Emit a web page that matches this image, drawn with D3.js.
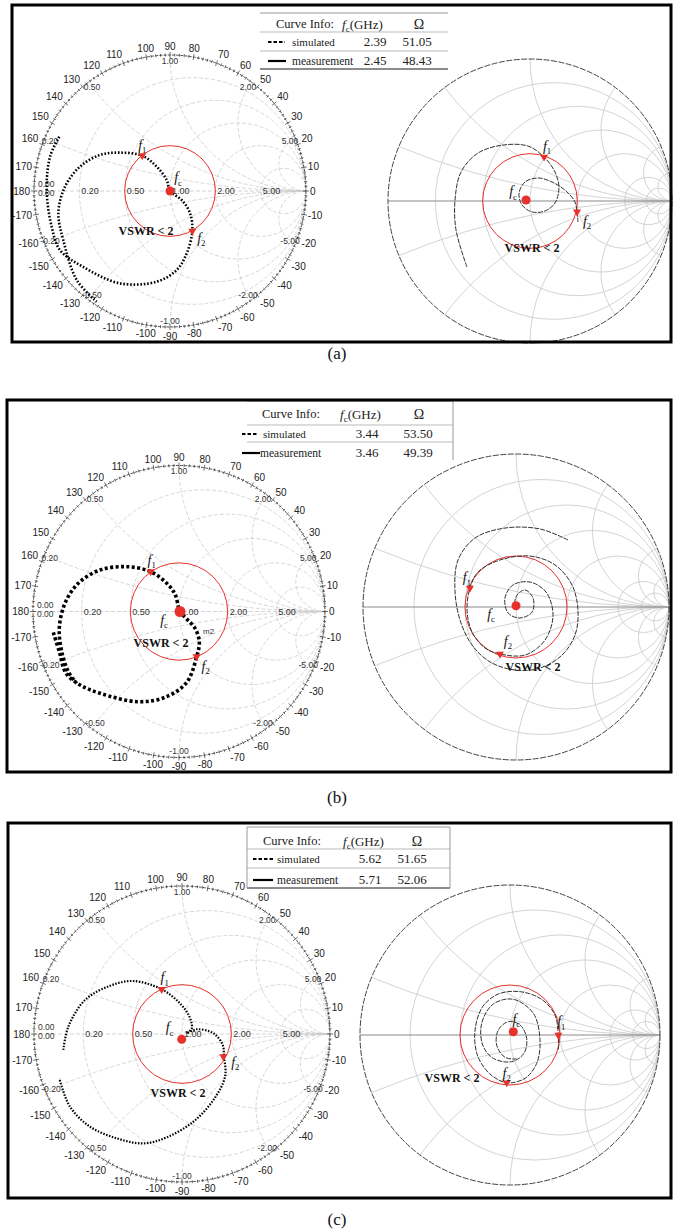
<!DOCTYPE html>
<html>
<head>
<meta charset="utf-8">
<script src="https://cdn.jsdelivr.net/npm/d3@7"></script>
<style>
  body { margin: 0; background: #fff; }
  svg { display: block; }
</style>
</head>
<body>
<svg id="fig" width="673" height="1232"></svg>
<script>
// ---- data (reflection coefficient, [Re, Im]) ----
const captions = ['(a)', '(b)', '(c)'];
const fcSim = ['2.39', '3.44', '5.62'];
const ohmSim = ['51.05', '53.50', '51.65'];
const fcMeas = ['2.45', '3.46', '5.71'];
const ohmMeas = ['48.43', '49.39', '52.06'];

const rGridLeft = [0.2, 0.5, 1, 2, 5];
const xGridLeft = [0.2, 0.5, 1, 2, 5];
const rGridRight = [0.2, 0.5, 1, 2, 5, 10];
const xGridRight = [0.2, 0.5, 1, 2, 5, 10];
const rLabels = ['0.20', '0.50', '1.00', '2.00', '5.00'];
const xLabels = ['0.20', '0.50', '1.00', '2.00', '5.00'];
const angleLabels = [-170, -160, -150, -140, -130, -120, -110, -100, -90, -80, -70, -60, -50, -40, -30, -20, -10,
  0, 10, 20, 30, 40, 50, 60, 70, 80, 90, 100, 110, 120, 130, 140, 150, 160, 170, 180];

const simA = [[-0.814,0.399],[-0.882,0.252],[-0.907,0.007],[-0.870,-0.263],[-0.809,-0.434],[-0.640,-0.557],
  [-0.368,-0.679],[-0.098,-0.667],[0.049,-0.581],[0.123,-0.458],[0.164,-0.294],[0.147,-0.162],[0.086,-0.066],
  [0,0],[-0.024,0.081],[-0.098,0.179],[-0.204,0.260],[-0.368,0.282],[-0.515,0.265],[-0.662,0.179],
  [-0.772,0.032],[-0.821,-0.162],[-0.785,-0.360],[-0.686,-0.654],[-0.539,-0.814]];
const simB = [[-0.861,-0.143],[-0.820,-0.275],[-0.774,-0.423],[-0.678,-0.503],[-0.541,-0.560],[-0.279,-0.618],
  [-0.084,-0.583],[0.053,-0.485],[0.121,-0.309],[0.139,-0.207],[0.110,-0.115],[0.053,-0.051],[0.007,0],
  [-0.027,0.118],[-0.084,0.193],[-0.194,0.273],[-0.358,0.307],[-0.541,0.284],[-0.690,0.193],[-0.781,0.056],
  [-0.820,-0.115],[-0.803,-0.275],[-0.758,-0.412],[-0.701,-0.492]];
const simC = [[-0.802,-0.108],[-0.768,0.049],[-0.655,0.230],[-0.486,0.326],[-0.329,0.358],[-0.137,0.302],
  [-0.014,0.207],[0.050,0.117],[0.066,0.038],[0.032,0.005],[0.099,0.032],[0.212,0.005],[0.275,-0.074],
  [0.284,-0.153],[0.291,-0.288],[0.212,-0.446],[0.077,-0.592],[-0.103,-0.698],[-0.261,-0.739],[-0.441,-0.705],
  [-0.622,-0.626],[-0.757,-0.491],[-0.829,-0.300]];

const measA = [[-0.444,-0.465],[-0.521,-0.204],[-0.528,0.007],[-0.486,0.204],[-0.366,0.338],[-0.190,0.394],
  [-0.014,0.387],[0.099,0.310],[0.176,0.204],[0.204,0.092],[0.176,-0.014],[0.106,-0.070],[0.014,-0.077],
  [-0.056,-0.028],[-0.077,0.056],[-0.035,0.134],[0.056,0.162],[0.155,0.134],[0.254,0.070],[0.317,-0.007],
  [0.331,-0.077],[0.338,-0.148]];
const measB = [[0.340,0.438],[0.157,0.510],[-0.072,0.516],[-0.268,0.451],[-0.379,0.307],[-0.399,0.111],
  [-0.366,-0.085],[-0.288,-0.248],[-0.170,-0.359],[-0.007,-0.412],[0.157,-0.399],[0.301,-0.314],[0.386,-0.183],
  [0.405,-0.020],[0.366,0.144],[0.255,0.275],[0.092,0.333],[-0.105,0.307],[-0.248,0.229],[-0.301,0.124],
  [-0.320,-0.020],[-0.288,-0.163],[-0.203,-0.268],[-0.105,-0.307],[0.059,-0.314],[0.190,-0.216],[0.242,-0.052],
  [0.196,0.098],[0.092,0.163],[-0.020,0.144],[-0.072,0.059],[-0.052,-0.039],[0.026,-0.072],[0.105,-0.033],
  [0.111,0.059],[0.059,0.111],[0.007,0.078],[-0.013,0.013]];
const measC = [[0.322,-0.096],[0.322,0],[0.300,0.133],[0.211,0.238],[0.067,0.289],[-0.078,0.273],[-0.182,0.189],
  [-0.233,0.033],[-0.218,-0.133],[-0.138,-0.256],[-0.022,-0.318],[0.100,-0.289],[0.178,-0.189],[0.200,-0.033],
  [0.156,0.144],[0.022,0.238],[-0.111,0.207],[-0.189,0.078],[-0.182,-0.067],[-0.111,-0.156],[0.011,-0.178],
  [0.093,-0.122],[0.111,-0.022],[0.067,0.067],[-0.011,0.089],[-0.078,0.033],[-0.089,-0.067],[-0.033,-0.149],
  [0.044,-0.160]];

// f1, f2, fc marker positions
const markSimA = [[-0.204,0.260],[0.164,-0.294],[0,0]];
const markSimB = [[-0.194,0.273],[0.121,-0.309],[0.007,0]];
const markSimC = [[-0.137,0.302],[0.279,-0.153],[-0.002,-0.036]];
const markMeasA = [[0.099,0.310],[0.331,-0.077],[-0.028,0.007]];
const markMeasB = [[-0.301,0.124],[-0.105,-0.307],[0,0.008]];
const markMeasC = [[0.322,0],[-0.022,-0.318],[0.022,0.022]];

// ---- layout ----
const serif = '"Liberation Serif", "Times New Roman", serif';
const sans = '"Liberation Sans", Arial, sans-serif';
const red = '#e8312a';

const layout = [
  { box: [12, 5, 671, 342], cap: 359,
    left: { cx: 170, cy: 191, R: 136, sim: simA, marks: markSimA, w: 2.6, dash: '1.6,1.8',
            lab: [[0,-10],[9,8],[8,-13]], vswr: [146, 235] },
    right: { cx: 530, cy: 201, R: 142, meas: measA, marks: markMeasA,
            lab: [[3,-10],[10,10],[-13,-8]], vswr: [532, 252] },
    leg: { x0: 260, x1: 448, top: 13, hl: [32, 51], bottom: 69, rows: [24, 42, 61],
           info: 276, fc: 342, fcVal: 375, om: 419, omVal: 417, samp: [268, 285], msamp: [268, 286],
           lbl: 292, mlbl: 292, vl: [] } },
  { box: [7, 400, 671, 772], cap: 803,
    left: { cx: 179, cy: 611.5, R: 146, sim: simB, marks: markSimB, w: 3.6, dash: '3,2.4',
            lab: [[1,-11],[9,10],[-16,9]], vswr: [161, 647], m2: [203, 634] },
    right: { cx: 516, cy: 607, R: 153, meas: measB, marks: markMeasB,
            lab: [[-3,-10],[8,-12],[-25,9]], vswr: [533, 671] },
    leg: { x0: 247, x1: 453, top: 401, hl: [425, 442], bottom: null, rows: [414, 434, 453],
           info: 262, fc: 340, fcVal: 367, om: 419, omVal: 418, samp: [242, 258], msamp: [242, 260],
           lbl: 263, mlbl: 260, vl: [[453, 400, 460]] } },
  { box: [8, 823, 671, 1198], cap: 1225,
    left: { cx: 182, cy: 1034, R: 148, sim: simC, marks: markSimC, w: 2.2, dash: '1.5,1.5',
            lab: [[3,-11],[12,6],[-12,-11]], vswr: [178, 1097] },
    right: { cx: 510, cy: 1035, R: 150, meas: measC, marks: markMeasC,
            lab: [[3,-13],[0,-9],[3,-12]], vswr: [452, 1082] },
    leg: { x0: 247, x1: 450, top: 827, hl: [849, 868], bottom: 888, rows: [841, 859, 880],
           info: 263, fc: 343, fcVal: 370, om: 417, omVal: 412, samp: [253, 273], msamp: [253, 273],
           lbl: 277, mlbl: 277, vl: [[247, 827, 888], [450, 827, 888]] } }
];

const svg = d3.select('#fig');

function fLabel(g, x, y, sub, size) {
  const t = g.append('text').attr('x', x).attr('y', y).attr('font-family', serif)
    .attr('font-size', size).attr('fill', '#111').attr('text-anchor', 'middle');
  t.append('tspan').attr('font-style', 'italic').text('f');
  t.append('tspan').attr('font-size', size * 0.62).attr('dy', size * 0.25).text(sub);
}

function smith(g, c, kind, id) {
  const xs = d3.scaleLinear().domain([-1, 1]).range([c.cx - c.R, c.cx + c.R]);
  const ys = d3.scaleLinear().domain([-1, 1]).range([c.cy + c.R, c.cy - c.R]);
  const isL = kind === 'left';
  g.append('clipPath').attr('id', id).append('circle')
    .attr('cx', c.cx).attr('cy', c.cy).attr('r', c.R);

  const grid = g.append('g').attr('clip-path', `url(#${id})`).attr('fill', 'none')
    .attr('stroke', isL ? '#cdcdcd' : '#c8c8c8').attr('stroke-width', 0.8)
    .attr('stroke-dasharray', isL ? '4,2' : null);
  const rs = isL ? rGridLeft : rGridRight;
  const xl = (isL ? xGridLeft : xGridRight).flatMap(v => [v, -v]);
  grid.append('g').selectAll('circle').data(rs).join('circle')
    .attr('cx', r => xs(r / (1 + r))).attr('cy', ys(0)).attr('r', r => c.R / (1 + r));
  grid.append('g').selectAll('circle').data(xl).join('circle')
    .attr('cx', xs(1)).attr('cy', x => ys(1 / x)).attr('r', x => c.R / Math.abs(x));
  g.append('line').attr('x1', xs(-1)).attr('x2', xs(1)).attr('y1', ys(0)).attr('y2', ys(0))
    .attr('stroke', isL ? '#c8c8c8' : '#8a8a8a').attr('stroke-width', isL ? 0.8 : 1)
    .attr('stroke-dasharray', isL ? '4,2' : null);

  if (isL) {
    // outer angle ring
    g.append('circle').attr('cx', c.cx).attr('cy', c.cy).attr('r', c.R)
      .attr('fill', 'none').attr('stroke', '#222').attr('stroke-width', 0.8).attr('stroke-dasharray', '3,1.2');
    const ticks = d3.range(-180, 180, 2);
    g.append('g').selectAll('line').data(ticks).join('line')
      .each(function (a) {
        const th = a * Math.PI / 180, r0 = a % 10 === 0 ? c.R - 3 : c.R - 1.5, r1 = a % 10 === 0 ? c.R + 3 : c.R + 1.5;
        d3.select(this)
          .attr('x1', c.cx + r0 * Math.cos(th)).attr('y1', c.cy - r0 * Math.sin(th))
          .attr('x2', c.cx + r1 * Math.cos(th)).attr('y2', c.cy - r1 * Math.sin(th));
      })
      .attr('stroke', '#333').attr('stroke-width', 0.7);
    g.append('g').selectAll('text').data(angleLabels).join('text')
      .each(function (a) {
        const th = a * Math.PI / 180, co = Math.cos(th), si = Math.sin(th);
        const rr = c.R + 4;
        d3.select(this)
          .attr('x', c.cx + rr * co).attr('y', c.cy - rr * si)
          .attr('text-anchor', co > 0.3 ? 'start' : co < -0.3 ? 'end' : 'middle')
          .attr('dy', si > 0.3 ? '-0.1em' : si < -0.3 ? '0.85em' : '0.35em');
      })
      .attr('font-family', sans).attr('font-size', 10).attr('fill', '#222').text(a => a);
    // resistance labels on the real axis
    g.append('g').selectAll('text').data(rGridLeft).join('text')
      .attr('x', r => xs((r - 1) / (r + 1)) + 2).attr('y', ys(0)).attr('dy', '0.35em')
      .attr('font-family', sans).attr('font-size', 9).attr('fill', '#333')
      .text((r, i) => rLabels[i]);
    // reactance labels at the rim
    const xlab = xGridLeft.flatMap((v, i) => [[v, xLabels[i]], [-v, '-' + xLabels[i]]]);
    g.append('g').selectAll('text').data(xlab).join('text')
      .each(function (d) {
        const th = Math.PI - 2 * Math.atan(d[0]), rr = c.R - 6;
        d3.select(this).attr('x', c.cx + rr * Math.cos(th)).attr('y', c.cy - rr * Math.sin(th));
      })
      .attr('dy', '0.35em').attr('text-anchor', 'middle')
      .attr('font-family', sans).attr('font-size', 8.5).attr('fill', '#333').text(d => d[1]);
    g.append('text').attr('x', xs(-1) + 4).attr('y', ys(0) - 4).attr('font-family', sans)
      .attr('font-size', 8.5).attr('fill', '#333').text('0.00');
    g.append('text').attr('x', xs(-1) + 4).attr('y', ys(0) + 5).attr('font-family', sans)
      .attr('font-size', 8.5).attr('fill', '#333').text('0.00');
  } else {
    g.append('circle').attr('cx', c.cx).attr('cy', c.cy).attr('r', c.R)
      .attr('fill', 'none').attr('stroke', '#444').attr('stroke-width', 1).attr('stroke-dasharray', '6,1.5');
  }

  // VSWR = 2 circle
  g.append('circle').attr('cx', c.cx).attr('cy', c.cy).attr('r', c.R / 3)
    .attr('fill', 'none').attr('stroke', red).attr('stroke-width', 1);

  const line = d3.line().x(d => xs(d[0])).y(d => ys(d[1])).curve(d3.curveCatmullRom.alpha(0.5));
  if (isL) {
    g.append('path').attr('d', line(c.sim)).attr('fill', 'none').attr('stroke', '#000')
      .attr('stroke-width', c.w).attr('stroke-dasharray', c.dash);
  } else {
    g.append('path').attr('d', line(c.meas)).attr('fill', 'none').attr('stroke', '#333')
      .attr('stroke-width', 1).attr('stroke-dasharray', '5,1.2');
  }

  // markers
  const tri = d3.symbol(d3.symbolTriangle, 28);
  c.marks.slice(0, 2).forEach(m => {
    g.append('path').attr('d', tri()).attr('fill', red)
      .attr('transform', `translate(${xs(m[0])},${ys(m[1])}) rotate(180)`);
  });
  const fc = c.marks[2];
  g.append('circle').attr('cx', xs(fc[0])).attr('cy', ys(fc[1])).attr('r', isL && c.w > 3 ? 5.5 : 4.5).attr('fill', red);
  ['1', '2', 'c'].forEach((s, i) => {
    const m = c.marks[i];
    fLabel(g, xs(m[0]) + c.lab[i][0], ys(m[1]) + c.lab[i][1] + 4, s, 14);
  });
  g.append('text').attr('x', c.vswr[0]).attr('y', c.vswr[1]).attr('text-anchor', 'middle')
    .attr('font-family', serif).attr('font-weight', 'bold').attr('font-size', 12).attr('fill', '#111')
    .text('VSWR < 2');
  if (c.m2) {
    g.append('text').attr('x', c.m2[0]).attr('y', c.m2[1]).attr('font-family', sans)
      .attr('font-size', 8).attr('fill', '#333').text('m2');
  }
}

function legend(g, L, i) {
  const txt = (x, y, s, size, anchor) => g.append('text').attr('x', x).attr('y', y + size * 0.33)
    .attr('font-family', serif).attr('font-size', size).attr('fill', '#222')
    .attr('text-anchor', anchor || 'start').text(s);
  g.append('rect').attr('x', L.x0).attr('y', L.top).attr('width', L.x1 - L.x0)
    .attr('height', (L.bottom || L.rows[2] + 8) - L.top).attr('fill', '#fff');
  g.append('line').attr('x1', L.x0).attr('x2', L.x1).attr('y1', L.top).attr('y2', L.top)
    .attr('stroke', '#999').attr('stroke-width', 1);
  L.hl.forEach(y => g.append('line').attr('x1', L.x0).attr('x2', L.x1).attr('y1', y).attr('y2', y)
    .attr('stroke', '#bbb').attr('stroke-width', 1));
  if (L.bottom) g.append('line').attr('x1', L.x0).attr('x2', L.x1).attr('y1', L.bottom).attr('y2', L.bottom)
    .attr('stroke', '#666').attr('stroke-width', 1.5);
  L.vl.forEach(v => g.append('line').attr('x1', v[0]).attr('x2', v[0]).attr('y1', v[1]).attr('y2', v[2])
    .attr('stroke', '#999').attr('stroke-width', 1));

  txt(L.info, L.rows[0], 'Curve Info:', 12.5);
  const h = g.append('text').attr('x', L.fc).attr('y', L.rows[0] + 4.5).attr('font-family', serif)
    .attr('font-size', 13).attr('fill', '#222');
  h.append('tspan').attr('font-style', 'italic').text('f');
  h.append('tspan').attr('font-size', 9).attr('dy', 3).text('c');
  h.append('tspan').attr('dy', -3).text('(GHz)');
  txt(L.om, L.rows[0], 'Ω', 14, 'middle');

  g.append('line').attr('x1', L.samp[0]).attr('x2', L.samp[1]).attr('y1', L.rows[1]).attr('y2', L.rows[1])
    .attr('stroke', '#000').attr('stroke-width', 2).attr('stroke-dasharray', '3.5,2');
  txt(L.lbl, L.rows[1], 'simulated', 11);
  txt(L.fcVal, L.rows[1], fcSim[i], 13, 'middle');
  txt(L.omVal, L.rows[1], ohmSim[i], 13, 'middle');

  g.append('line').attr('x1', L.msamp[0]).attr('x2', L.msamp[1]).attr('y1', L.rows[2]).attr('y2', L.rows[2])
    .attr('stroke', '#000').attr('stroke-width', 2.2);
  txt(L.mlbl, L.rows[2], 'measurement', 11.5);
  txt(L.fcVal, L.rows[2], fcMeas[i], 13, 'middle');
  txt(L.omVal, L.rows[2], ohmMeas[i], 13, 'middle');
}

layout.forEach((P, i) => {
  const g = svg.append('g');
  smith(g.append('g'), P.left, 'left', 'clipL' + i);
  smith(g.append('g'), P.right, 'right', 'clipR' + i);
  legend(g.append('g'), P.leg, i);
  const b = P.box;
  g.append('rect').attr('x', b[0]).attr('y', b[1]).attr('width', b[2] - b[0]).attr('height', b[3] - b[1])
    .attr('fill', 'none').attr('stroke', '#000').attr('stroke-width', 3);
  svg.append('text').attr('x', 337).attr('y', P.cap).attr('text-anchor', 'middle')
    .attr('font-family', serif).attr('font-size', 17).attr('fill', '#111').text(captions[i]);
});
</script>
</body>
</html>
